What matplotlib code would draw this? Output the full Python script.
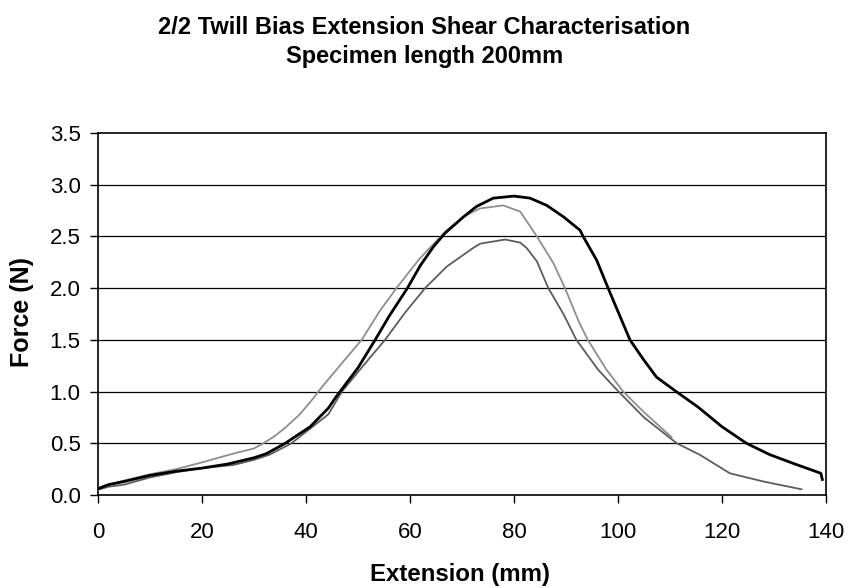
import matplotlib.pyplot as plt
import numpy as np

plt.rcParams['font.family'] = ['Liberation Sans', 'DejaVu Sans']

# Образец 1 (чорна крива)
x_black = [0, 2, 5, 10, 15, 20, 25, 30, 32.4, 36, 40.8, 44.3, 45.8, 50, 53.3, 56, 59.5, 62, 64.5,
           66.7, 70.3, 72.8, 76, 80, 83.1, 86.3, 89.5, 92.7, 93.3, 95.9, 98.1, 100.7, 102.3,
           104.9, 107.4, 111.2, 115.4, 120, 124.7, 129.2, 134, 139, 139.3]
y_black = [0.06, 0.1, 0.13, 0.19, 0.23, 0.26, 0.3, 0.36, 0.4, 0.5, 0.66, 0.84, 0.95, 1.23, 1.5, 1.73,
           2.0, 2.22, 2.4, 2.53, 2.69, 2.79, 2.87, 2.89, 2.87, 2.8, 2.69, 2.56, 2.5, 2.27, 2.0, 1.69,
           1.5, 1.31, 1.14, 1.0, 0.85, 0.66, 0.5, 0.39, 0.3, 0.21, 0.15]

# Образец 2 (світло-сіра крива)
x_b = [0, 2, 5, 10, 15, 19.6, 26, 30, 31.8, 34, 36, 38.8, 41, 43, 47, 50.7, 54.2, 57.4, 61.6, 64,
       67.1, 70.3, 73.4, 77.9, 81.2, 84.4, 87.6, 89.8, 92.6, 94.2, 97.8, 101, 105, 110.3]
y_b = [0.07, 0.1, 0.14, 0.2, 0.25, 0.31, 0.4, 0.45, 0.5, 0.57, 0.65, 0.78, 0.91, 1.04, 1.28, 1.5, 1.78,
       2.0, 2.27, 2.4, 2.56, 2.69, 2.77, 2.8, 2.74, 2.5, 2.24, 2.0, 1.66, 1.5, 1.21, 1.0, 0.8, 0.56]

# Образец 3 (темно-сіра крива)
x_c = [0, 2, 5, 10, 15, 20, 26, 30, 33, 37.2, 41, 44.3, 46.9, 51, 55.2, 59, 62.9, 67.1, 72.2, 73.5,
       78.3, 81.2, 82.4, 84.4, 86.6, 89.5, 92, 96.2, 100.1, 105, 111.3, 115.8, 121.5, 128, 135.3]
y_c = [0.05, 0.08, 0.1, 0.17, 0.22, 0.26, 0.29, 0.34, 0.39, 0.5, 0.65, 0.78, 1.0, 1.25, 1.5, 1.76,
       2.0, 2.21, 2.39, 2.43, 2.47, 2.44, 2.39, 2.26, 2.0, 1.75, 1.5, 1.21, 1.0, 0.75, 0.5, 0.387,
       0.21, 0.13, 0.055]

y_ticks = [0.0, 0.5, 1.0, 1.5, 2.0, 2.5, 3.0, 3.5]
x_ticks = [0, 20, 40, 60, 80, 100, 120, 140]

fig = plt.figure(figsize=(8.49, 5.88), dpi=100)
ax = fig.add_axes([98 / 849, 1 - 495 / 588, (826 - 98) / 849, (495 - 133) / 588])

for yv in y_ticks[1:-1]:
    ax.axhline(yv, color='black', lw=0.9, zorder=1)

ax.plot(x_c, y_c, color='#5c5c5c', lw=1.3, zorder=3)
ax.plot(x_b, y_b, color='#8e8e8e', lw=1.3, zorder=3)
ax.plot(x_black, y_black, color='black', lw=2.0, zorder=4)

ax.set_xlim(0, 140)
ax.set_ylim(0, 3.5)
ax.set_xticks(x_ticks)
ax.set_yticks(y_ticks)
ax.set_yticklabels([f'{v:.1f}' for v in y_ticks])
ax.tick_params(direction='out', length=5.5, width=1, labelsize=16)
ax.tick_params(axis='x', pad=14)
ax.tick_params(axis='y', pad=7)
for s in ax.spines.values():
    s.set_linewidth(1.2)
    s.set_color('black')

fig.text(0.5, 1 - 28 / 588, '2/2 Twill Bias Extension Shear Characterisation',
         ha='center', va='center', fontsize=17, fontweight='bold')
fig.text(0.5, 1 - 56 / 588, 'Specimen length 200mm',
         ha='center', va='center', fontsize=17, fontweight='bold')
fig.text(460 / 849, 1 - 574 / 588, 'Extension (mm)', ha='center', va='center',
         fontsize=17.3, fontweight='bold')
fig.text(22 / 849, 1 - 312 / 588, 'Force (N)', ha='center', va='center',
         fontsize=18, fontweight='bold', rotation=90)

fig.savefig('out.png', dpi=100)
